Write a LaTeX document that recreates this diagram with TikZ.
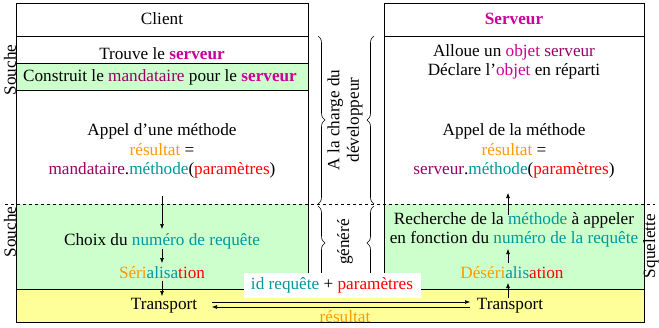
\documentclass[tikz,border=0pt]{standalone}
\usepackage{fontspec}
\setmainfont{Liberation Serif}
\usetikzlibrary{decorations.pathreplacing,arrows.meta}
\definecolor{mag}{RGB}{204,0,153}
\definecolor{dmag}{RGB}{153,0,102}
\definecolor{orng}{RGB}{255,153,0}
\definecolor{tealc}{RGB}{0,153,153}
\definecolor{redc}{RGB}{255,0,0}
\definecolor{gfill}{RGB}{204,255,204}
\definecolor{yfill}{RGB}{255,255,153}
\newcommand{\srv}[1]{\textcolor{mag}{\bfseries #1}}
\newcommand{\mnd}[1]{\textcolor{dmag}{#1}}
\newcommand{\org}[1]{\textcolor{orng}{#1}}
\newcommand{\tl}[1]{\textcolor{tealc}{#1}}
\newcommand{\rd}[1]{\textcolor{redc}{#1}}
\begin{document}
\begin{tikzpicture}[x=1pt,y=-1pt,
  txt/.style={font=\fontsize{17.2}{19.5}\selectfont, align=center, inner sep=0pt},
  sidelbl/.style={font=\fontsize{17.2}{19.5}\selectfont, rotate=90, inner sep=0pt, align=center},
  arr/.style={-{Latex[length=5pt,width=4pt]}, line width=0.6pt},
  frame/.style={draw=black, line width=0.8pt},
  brc/.style={decorate, decoration={brace, amplitude=7pt}, line width=0.6pt}]
\useasboundingbox (0,0) rectangle (659,327);
% boxes
\draw[frame, fill=white] (16,3) rectangle (308,289);
\draw[frame] (16,36) -- (308,36);
\draw[frame, fill=gfill] (16,63) rectangle (308,90);
\fill[gfill] (16,204) rectangle (308,289);
\draw[frame, fill=white] (384,3) rectangle (644,289);
\draw[frame] (384,36) -- (644,36);
\fill[gfill] (384,204) rectangle (644,289);
\draw[frame] (16,204) -- (16,289) -- (308,289) -- (308,204);
\draw[frame] (384,204) -- (384,289) -- (644,289) -- (644,204);
\draw[frame, fill=yfill] (16,289) rectangle (644,322);
\draw[dashed, line width=0.6pt] (5,204) -- (655,204);
% braces
\draw[brc] (318,36) -- (318,204);
\draw[brc] (374,204) -- (374,36);
\draw[brc] (318,206) -- (318,280);
\draw[brc] (374,280) -- (374,206);
% texts
\node[txt] (client) at (162,19) {Client};
\node[txt] (serveur) at (514,19) {\srv{Serveur}};
\node[txt] (trouve) at (162,54) {Trouve le \srv{serveur}};
\node[txt] (construit) at (160,77) {Construit le \mnd{mandataire} pour le \srv{serveur}};
\node[txt] (appelC) at (162,151) {Appel d’une méthode\\\org{résultat} =\\\mnd{mandataire}.\tl{méthode}(\rd{paramètres})};
\node[txt] (alloue) at (514,62) {Alloue un \textcolor{mag}{objet} \mnd{serveur}\\Déclare l’\textcolor{mag}{objet} en réparti};
\node[txt] (appelS) at (514,151) {Appel de la méthode\\\org{résultat} =\\\mnd{serveur}.\tl{méthode}(\rd{paramètres})};
\node[txt] (choix) at (162,241) {Choix du \tl{numéro de requête}};
\node[txt] (seri) at (162,273) {\org{Séri}\tl{alisa}\rd{tion}};
\node[txt] (transC) at (164,306) {Transport};
\node[txt] (recherche) at (514,230) {Recherche de la \tl{méthode} à appeler\\en fonction du \tl{numéro de la requête}};
\node[txt] (deseri) at (512,273) {\org{Déséri}\tl{alis}\rd{ation}};
\node[txt] (transS) at (510,306) {Transport};
\node[txt, fill=white, minimum width=177pt, minimum height=25pt] (idreq) at (332,285.5) {\tl{id requête} + \rd{paramètres}};
\node[txt] (resultat) at (345,317) {\org{résultat}};
\node[sidelbl] (souche1) at (10,70) {Souche};
\node[sidelbl] (souche2) at (10,232) {Souche};
\node[sidelbl] (squelette) at (651,246) {Squelette};
\node[sidelbl] (charge) at (345,120) {A la charge du\\développeur};
\node[sidelbl] (genere) at (345,242) {généré};
% arrow endpoints
\coordinate (c1a) at (162,196);
\coordinate (c1b) at (162,229);
\coordinate (c2a) at (162,249);
\coordinate (c2b) at (162,263);
\coordinate (c3a) at (162,281);
\coordinate (c3b) at (162,296);
\coordinate (s1a) at (508,298);
\coordinate (s1b) at (508,283);
\coordinate (s2a) at (508,263);
\coordinate (s2b) at (508,249);
\coordinate (s3a) at (508,215);
\coordinate (s3b) at (508,193);
\coordinate (h1a) at (212,302);
\coordinate (h1b) at (470,302);
\coordinate (h2a) at (470,307);
\coordinate (h2b) at (212,307);
\draw[arr] (c1a) -- (c1b);
\draw[arr] (c2a) -- (c2b);
\draw[arr] (c3a) -- (c3b);
\draw[arr] (s1a) -- (s1b);
\draw[arr] (s2a) -- (s2b);
\draw[arr] (s3a) -- (s3b);
\draw[arr] (h1a) -- (h1b);
\draw[arr] (h2a) -- (h2b);
\end{tikzpicture}
\end{document}
